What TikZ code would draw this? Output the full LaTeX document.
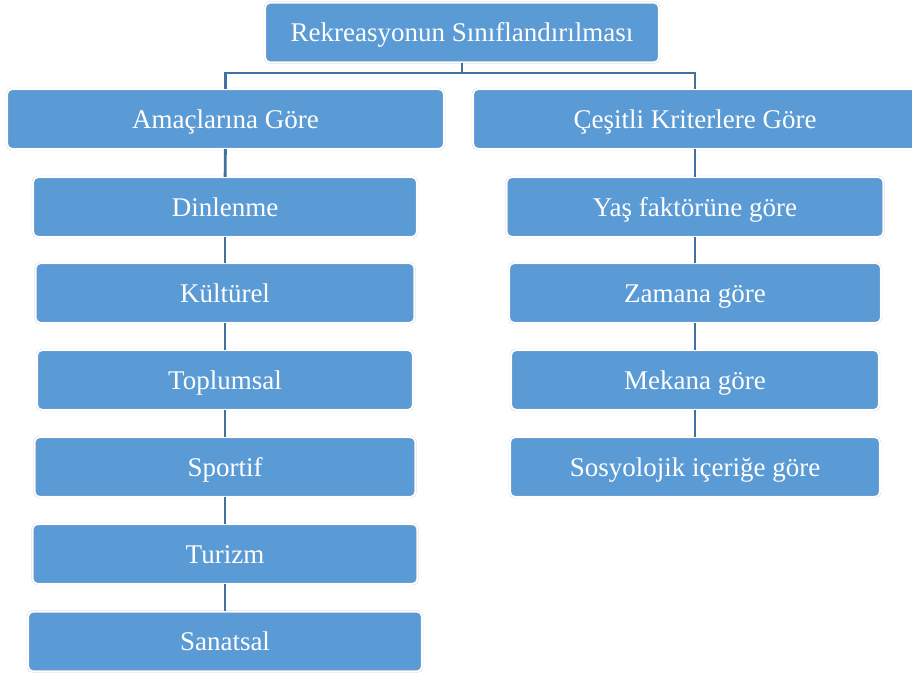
\documentclass[tikz,border=0pt]{standalone}
\usepackage{fontspec}
\setmainfont{Liberation Serif}
\usetikzlibrary{positioning}

\definecolor{boxblue}{HTML}{5B9BD5}
\definecolor{linkblue}{HTML}{41719C}

\tikzset{
  box/.style={rectangle, rounded corners=5pt, fill=boxblue, draw=black!18,
              double=white, double distance=1.6pt, text=white,
              minimum height=60pt, inner sep=0pt,
              text height=22pt, text depth=4pt,
              font=\fontsize{27}{32}\selectfont},
  link/.style={draw=linkblue, line width=2.9pt}
}

\begin{document}
\begin{tikzpicture}[x=1pt, y=-1pt]
\useasboundingbox (0,0) rectangle (912,675);
        % Draw the boxes
        \node[box, minimum width=394pt] at (462, 32.5)   (root)     {Rekreasyonun Sınıflandırılması};
        \node[box, minimum width=437pt] at (225.5, 119)  (amac)     {Amaçlarına Göre};
        \node[box, minimum width=444pt] at (695, 119)    (cesit)    {Çeşitli Kriterlere Göre};
        \node[box, minimum width=384pt] at (225, 207)    (dinlenme) {Dinlenme};
        \node[box, minimum width=379pt] at (225, 293)    (kultur)   {Kültürel};
        \node[box, minimum width=376pt] at (225, 380)    (toplum)   {Toplumsal};
        \node[box, minimum width=381pt] at (225, 467)    (sportif)  {Sportif};
        \node[box, minimum width=385pt] at (225, 554)    (turizm)   {Turizm};
        \node[box, minimum width=394pt] at (225, 641.5)  (sanat)    {Sanatsal};
        \node[box, minimum width=377pt] at (695, 207)    (yas)      {Yaş faktörüne göre};
        \node[box, minimum width=372pt] at (695, 293)    (zaman)    {Zamana göre};
        \node[box, minimum width=368pt] at (695, 380)    (mekan)    {Mekana göre};
        \node[box, minimum width=370pt] at (695, 467)    (sosyo)    {Sosyolojik içeriğe göre};

        % Connect the boxes
        \coordinate (split) at (462, 73);
\draw[link]  (root.south) -- (split) -| (amac.north);
\draw[link]  (split) -| (cesit.north);

\draw[link]  (amac) -- (dinlenme);
\draw[link]  (dinlenme) -- (kultur);
\draw[link]  (kultur) -- (toplum);
\draw[link]  (toplum) -- (sportif);
\draw[link]  (sportif) -- (turizm);
\draw[link]  (turizm) -- (sanat);

\draw[link]  (cesit) -- (yas);
\draw[link]  (yas) -- (zaman);
\draw[link]  (zaman) -- (mekan);
\draw[link]  (mekan) -- (sosyo);
\end{tikzpicture}
\end{document}
